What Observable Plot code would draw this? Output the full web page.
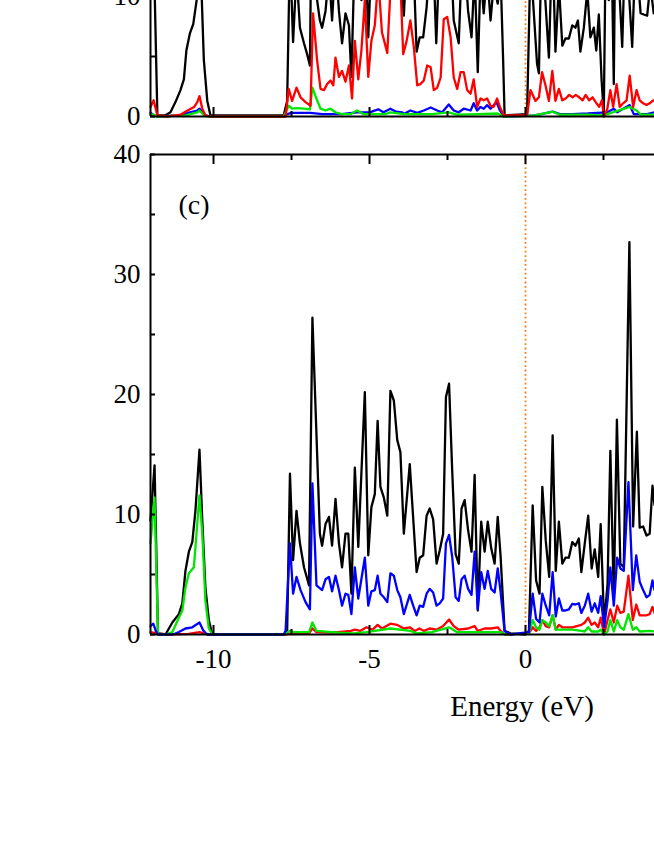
<!DOCTYPE html>
<html>
<head>
<meta charset="utf-8">
<script src="https://cdn.jsdelivr.net/npm/d3@7"></script>
<script src="https://cdn.jsdelivr.net/npm/@observablehq/plot@0.6"></script>
<style>
  html, body { margin: 0; padding: 0; background: #fff; }
  #wrap { position: relative; width: 654px; height: 846px; overflow: hidden; background: #fff; }
  #wrap svg { position: absolute; left: 0; }
  #xlabel { position: absolute; left: 322px; width: 400px; text-align: center; top: 692px;
            font-family: "Liberation Serif", serif; font-size: 29px; line-height: 29px; color: #000; }
</style>
</head>
<body>
<div id="wrap"><div id="xlabel">Energy (eV)</div></div>
<script>
// ---- axes / ticks ----
const xDomain = [-12.02, 4.135];
const yDomain = [0, 40];
const xTickLabels = [-10, -5, 0];
const xMinorTicks = [-7.5, -2.5, 2.5];
const yTickLabelsB = [0, 10];
const yTickLabelsC = [0, 10, 20, 30, 40];
const yAllTicks = [0, 5, 10, 15, 20, 25, 30, 35, 40];
const fermiLevel = [0];

// ---- panel (b): [energy (eV), DOS] ----
const bBlack = [[-12.02,16],[-11.9,12],[-11.8,0.1],[-11.54,0.1],[-11.38,0.36],[-11.22,1.2],[-11.06,2.2],[-10.95,3.1],[-10.87,5.5],[-10.76,6.9],[-10.65,7.7],[-10.54,9.7],[-10.45,15.5],[-10.31,4.7],[-10.2,1.3],[-10.1,0.1],
 [-7.75,0.1],[-7.64,1.3],[-7.55,14],[-7.45,6.2],[-7.34,12],[-7.23,7.4],[-7.10,6.1],[-7.0,5.2],[-6.91,4.25],[-6.83,24],[-6.68,9.7],[-6.59,8.0],[-6.52,7.4],[-6.41,8.8],[-6.30,12],[-6.20,8.0],[-6.09,13],[-5.98,8.8],[-5.88,6.1],[-5.77,8.6],[-5.66,7.6],[-5.58,3.3],[-5.47,14],[-5.36,11],[-5.26,9.7],[-5.15,16],[-5.04,6.6],[-4.94,13],[-4.83,11],[-4.72,18],[-4.60,12],[-4.50,14],[-4.40,11],[-4.30,19],[-4.18,17],[-4.05,13],
 [-3.90,8.4],[-3.79,14],[-3.69,11],[-3.58,12],[-3.49,5.4],[-3.39,6.6],[-3.28,6.6],[-3.17,9.1],[-3.07,13],[-2.94,12],[-2.86,6.1],[-2.75,14],[-2.62,11],[-2.52,16],[-2.40,14],[-2.30,8.0],[-2.14,6.1],[-2.04,13],[-1.90,11],[-1.84,8.8],[-1.73,6.6],[-1.63,12],[-1.53,3.7],[-1.44,12],[-1.34,8.6],[-1.23,12],[-1.12,8.0],[-1.02,11],[-0.89,9.4],[-0.80,12],[-0.72,5],[-0.67,0.1],
 [0.05,0.2],[0.16,13],[0.37,4.4],[0.43,3.6],[0.51,14],[0.64,9.5],[0.75,4.9],[0.86,15],[0.96,5.4],[1.07,11],[1.18,5.9],[1.28,6.5],[1.39,6.5],[1.50,7.6],[1.60,7.4],[1.68,8.0],[1.76,5.4],[1.87,7.4],[1.98,10.5],[2.08,6.6],[2.19,7.4],[2.27,5.5],[2.35,8.5],[2.44,3],[2.51,0.2],[2.56,12],[2.67,9.7],[2.76,14],[2.83,2.7],[2.88,16],[3.0,11],[3.1,5.8],[3.2,15],[3.3,11],[3.42,5.8],[3.53,14],[3.69,8.6],[3.79,8.5],[3.9,8.4],[4.0,11],[4.11,8.6],[4.135,9]];
const bRed = [[-12.02,0.8],[-11.92,1.35],[-11.8,0.1],[-11.5,0],[-11.06,0.15],[-10.90,0.4],[-10.73,0.65],[-10.62,0.8],[-10.52,1.2],[-10.45,1.7],[-10.36,0.65],[-10.26,0.1],[-10.1,0],
 [-7.69,0],[-7.59,2.3],[-7.48,1.3],[-7.34,2.4],[-7.21,1.6],[-7.05,1.2],[-6.89,0.9],[-6.81,8.6],[-6.68,4.7],[-6.57,2.3],[-6.46,2.2],[-6.36,2.7],[-6.25,3.0],[-6.16,2.6],[-6.09,4.9],[-5.98,3.3],[-5.88,3.8],[-5.77,2.9],[-5.66,4.25],[-5.56,1.5],[-5.47,6.3],[-5.36,3.1],[-5.26,5.5],[-5.15,9.7],[-5.04,3.3],[-4.94,6.3],[-4.83,7.6],[-4.72,11.5],[-4.60,7.0],[-4.43,5.3],[-4.32,11],[-4.15,12],[-4.0,10.5],[-3.92,5.2],[-3.81,6.3],[-3.69,8.0],[-3.58,5.8],[-3.47,2.6],[-3.37,2.7],[-3.26,3.0],[-3.15,4.25],[-3.04,4.1],[-2.94,2.2],[-2.83,2.4],[-2.72,3.25],[-2.62,8.1],[-2.51,8.3],[-2.40,6.6],[-2.30,3.25],[-2.19,2.3],[-2.08,3.7],[-1.98,3.7],[-1.87,2.2],[-1.76,1.9],[-1.66,3.1],[-1.55,0.8],[-1.44,1.5],[-1.34,1.35],[-1.23,1.5],[-1.12,0.9],[-1.02,0.8],[-0.91,1.5],[-0.82,0.8],[-0.70,0.1],
 [0.05,0.1],[0.16,2.2],[0.32,1.3],[0.43,1.6],[0.53,3.7],[0.64,2.6],[0.75,1.3],[0.86,3.8],[0.96,1.3],[1.07,2.3],[1.18,1.35],[1.29,1.5],[1.40,1.8],[1.51,1.6],[1.61,1.8],[1.72,1.6],[1.83,1.35],[1.93,1.8],[2.04,1.35],[2.15,1.6],[2.25,1.2],[2.36,0.8],[2.45,1.35],[2.51,0],[2.62,0.6],[2.72,2.2],[2.81,0.8],[2.92,2.7],[3.02,0.8],[3.13,1.1],[3.24,1.35],[3.34,3.4],[3.45,0.8],[3.56,2.2],[3.66,1.35],[3.77,1.1],[3.88,0.95],[3.98,1.1],[4.09,1.35],[4.135,1.3]];
const bBlue = [[-12.02,0.3],[-11.9,0.1],[-11.8,0],[-11.06,0.1],[-10.76,0.35],[-10.52,0.5],[-10.45,0.65],[-10.36,0.35],[-10.26,0.1],[-10.1,0],
 [-7.75,0],[-7.64,0.2],[-7.5,0.3],[-6.9,0.3],[-6.5,0.2],[-5.9,0.2],[-5.4,0.35],[-5.0,0.35],[-4.72,0.6],[-4.55,0.35],[-4.33,0.65],[-4.15,0.4],[-3.95,0.35],[-3.9,0.2],[-3.69,0.5],[-3.47,0.3],[-3.26,0.5],[-3.04,0.75],[-2.83,0.5],[-2.67,0.35],[-2.46,1.0],[-2.30,0.5],[-2.14,0.35],[-1.98,0.65],[-1.76,0.5],[-1.66,1.1],[-1.55,0.5],[-1.44,0.8],[-1.34,0.65],[-1.23,0.95],[-1.12,0.65],[-0.93,1.2],[-0.82,0.5],[-0.70,0],
 [0.05,0.05],[0.27,0.1],[0.5,0.2],[0.87,0.4],[1.1,0.2],[1.5,0.2],[2.0,0.25],[2.3,0.3],[2.62,0.35],[2.83,0.65],[2.94,0.35],[3.34,0.95],[3.47,0.2],[3.9,0.2],[4.135,0.35]];
const bGreen = [[-12.02,0.2],[-11.85,0.1],[-11.8,0],[-10.9,0.1],[-10.52,0.35],[-10.45,0.5],[-10.31,0.1],[-10.2,0],
 [-7.75,0],[-7.59,0.9],[-7.48,0.65],[-7.32,0.7],[-7.1,0.65],[-6.91,0.6],[-6.83,2.4],[-6.68,1.35],[-6.57,0.65],[-6.41,0.5],[-6.25,0.65],[-6.09,0.35],[-5.88,0.2],[-5.6,0.2],[-5.4,0.5],[-5.2,0.2],[-4.5,0.2],[-4.33,0.35],[-3.9,0.2],[-3.0,0.2],[-2.46,0.35],[-2.2,0.15],[-1.5,0.2],[-0.9,0.25],[-0.70,0],
 [0.05,0.05],[0.3,0.1],[0.87,0.4],[1.1,0.15],[2.0,0.15],[2.5,0.1],[3.34,0.8],[3.56,0.5],[3.7,0.15],[4.135,0.15]];

// ---- panel (c): [energy (eV), DOS] ----
const cBlack = [[-12.02,9.5],[-11.89,14.1],[-11.78,0.1],[-11.54,0],[-11.32,1.0],[-11.11,1.7],[-11.0,2.6],[-10.9,5.3],[-10.79,6.9],[-10.68,7.7],[-10.58,10.3],[-10.45,15.4],[-10.36,9.5],[-10.26,3.9],[-10.15,1.2],[-10.04,0],
 [-7.75,0],[-7.64,0.3],[-7.55,13.4],[-7.45,6.2],[-7.34,10.3],[-7.23,7.6],[-7.10,5.6],[-6.94,4.1],[-6.83,26.4],[-6.59,8.4],[-6.52,7.4],[-6.41,9.2],[-6.30,9.8],[-6.20,7.4],[-6.09,11.3],[-5.98,7.6],[-5.88,5.6],[-5.77,8.4],[-5.68,8.4],[-5.58,3.4],[-5.47,13.9],[-5.36,7.3],[-5.15,20.2],[-5.04,6.6],[-4.94,10.6],[-4.83,11.7],[-4.74,17.8],[-4.65,12.3],[-4.54,11.4],[-4.43,9.9],[-4.33,20.3],[-4.22,19.5],[-4.11,16.2],[-4.01,15.2],[-3.90,8.4],[-3.71,14.2],[-3.49,5.2],[-3.39,6.4],[-3.28,6.6],[-3.17,9.9],[-3.07,10.5],[-2.96,9.6],[-2.85,5.9],[-2.75,7.0],[-2.64,8.4],[-2.55,19.8],[-2.45,20.9],[-2.35,13.7],[-2.24,6.7],[-2.14,5.9],[-2.05,10.5],[-1.95,11.2],[-1.84,8.7],[-1.73,6.9],[-1.63,13.3],[-1.53,2.0],[-1.42,9.4],[-1.31,6.9],[-1.21,9.4],[-1.10,7.2],[-0.99,5.9],[-0.89,9.8],[-0.80,6.6],[-0.67,0.3],[-0.48,0.1],
 [0.0,0],[0.11,0.3],[0.23,10.75],[0.34,4.5],[0.45,3.4],[0.54,12.3],[0.65,7.8],[0.76,4.8],[0.87,16.6],[0.97,5.3],[1.07,9.4],[1.18,5.9],[1.28,6.4],[1.39,6.4],[1.50,7.7],[1.60,7.4],[1.71,8.0],[1.79,5.2],[1.90,7.6],[2.01,9.9],[2.12,5.5],[2.22,7.1],[2.33,4.8],[2.41,9.2],[2.52,0.9],[2.63,4.2],[2.72,15.3],[2.83,3.1],[2.93,17.9],[3.04,5.9],[3.15,5.6],[3.33,32.7],[3.45,9],[3.57,16.9],[3.66,8.9],[3.77,9.0],[3.88,8.25],[3.98,8.4],[4.07,12.4],[4.135,10.8]];
const cBlue = [[-12.02,0.7],[-11.93,0.9],[-11.85,0.3],[-11.78,0],[-11.3,0],[-11.11,0.2],[-10.9,0.5],[-10.68,0.6],[-10.45,1.0],[-10.32,0.3],[-10.2,0],
 [-7.75,0],[-7.69,0.3],[-7.55,7.6],[-7.45,3.4],[-7.34,4.8],[-7.21,3.7],[-7.05,2.7],[-6.91,2.1],[-6.83,12.6],[-6.70,4.1],[-6.52,3.7],[-6.41,4.6],[-6.30,4.8],[-6.20,3.6],[-6.09,4.9],[-5.98,3.7],[-5.88,2.4],[-5.77,3.4],[-5.68,3.3],[-5.58,1.7],[-5.47,5.6],[-5.36,3.0],[-5.15,6.4],[-5.04,2.4],[-4.94,3.6],[-4.83,3.7],[-4.74,4.9],[-4.65,3.4],[-4.54,3.1],[-4.43,2.7],[-4.33,5.1],[-4.22,4.9],[-4.11,3.7],[-4.01,3.1],[-3.90,1.7],[-3.71,3.3],[-3.60,2.4],[-3.49,1.6],[-3.39,2.4],[-3.28,2.3],[-3.17,3.4],[-3.07,3.8],[-2.96,3.5],[-2.85,2.4],[-2.75,2.6],[-2.64,3.0],[-2.55,7.6],[-2.45,8.3],[-2.35,6.5],[-2.24,3.1],[-2.14,2.8],[-2.05,4.6],[-1.95,4.9],[-1.84,3.8],[-1.73,3.3],[-1.63,6.9],[-1.53,2.1],[-1.42,5.2],[-1.31,3.8],[-1.21,5.3],[-1.10,3.8],[-0.99,3.5],[-0.89,5.5],[-0.80,3.6],[-0.67,0.3],[-0.48,0],
 [0.11,0.2],[0.23,3.4],[0.34,1.3],[0.45,1.0],[0.54,3.4],[0.65,2.4],[0.76,1.6],[0.87,5.2],[0.97,1.5],[1.07,3.0],[1.18,2.0],[1.28,2.0],[1.39,2.1],[1.50,2.55],[1.60,2.5],[1.71,2.6],[1.79,1.8],[1.90,2.4],[2.01,3.4],[2.12,1.9],[2.22,2.6],[2.33,1.8],[2.41,3.2],[2.52,0.6],[2.63,2.8],[2.72,5.6],[2.83,2.4],[2.94,6.4],[3.04,5.5],[3.15,5.3],[3.30,12.7],[3.44,3.7],[3.55,6.6],[3.66,4.4],[3.77,3.7],[3.88,3.1],[3.98,3.3],[4.07,4.5],[4.135,3.7]];
const cGreen = [[-12.02,7.6],[-11.89,11.4],[-11.78,0],[-11.54,0],[-11.32,0.2],[-11.11,1.4],[-11.0,2.0],[-10.9,3.9],[-10.79,5.1],[-10.63,5.6],[-10.45,11.6],[-10.36,8.4],[-10.26,2.8],[-10.15,0.5],[-10.04,0],
 [-7.75,0],[-7.55,0.3],[-7.45,0.2],[-6.94,0.2],[-6.83,1.0],[-6.70,0.3],[-6.0,0.15],[-5.5,0.1],[-5.1,0.2],[-4.33,0.5],[-3.69,0.3],[-3.5,0.1],[-3.0,0.2],[-2.45,0.6],[-2.2,0.2],[-1.5,0.2],[-0.80,0.2],[-0.67,0],
 [0.11,0.1],[0.23,1.2],[0.34,0.6],[0.45,0.4],[0.54,1.2],[0.65,1.0],[0.76,0.7],[0.87,1.6],[0.97,0.4],[1.07,0.4],[1.5,0.4],[1.79,0.3],[1.90,0.25],[2.01,0.6],[2.12,0.25],[2.33,0.25],[2.41,0.4],[2.52,0],[2.63,0.25],[2.72,1.2],[2.83,0.25],[2.94,1.2],[3.04,0.6],[3.15,0.4],[3.30,1.7],[3.44,0.4],[3.55,0.6],[3.66,0.25],[3.98,0.3],[4.135,0.25]];
const cRed = [[-12.02,0.2],[-11.8,0.1],[-11.5,0],[-10.8,0.05],[-10.45,0.2],[-10.2,0],
 [-7.7,0],[-7.5,0.1],[-6.94,0.1],[-6.83,0.5],[-6.7,0.2],[-6.2,0.15],[-5.6,0.3],[-5.47,0.4],[-5.3,0.3],[-5.1,0.6],[-4.9,0.4],[-4.74,0.8],[-4.6,0.5],[-4.33,0.9],[-4.11,0.8],[-3.90,0.5],[-3.71,0.6],[-3.55,0.3],[-3.4,0.5],[-3.25,0.3],[-3.07,0.5],[-2.85,0.4],[-2.64,0.7],[-2.45,1.25],[-2.3,0.7],[-2.14,0.4],[-1.84,0.5],[-1.63,0.7],[-1.53,0.3],[-1.31,0.5],[-1.10,0.5],[-0.89,0.6],[-0.80,0.3],[-0.67,0],
 [0.11,0.1],[0.23,0.6],[0.34,0.3],[0.45,0.6],[0.54,1.2],[0.65,0.7],[0.76,0.6],[0.87,1.6],[0.97,0.4],[1.07,0.8],[1.18,0.6],[1.5,0.6],[1.79,0.8],[1.90,1.0],[2.01,1.4],[2.12,0.8],[2.22,1.0],[2.33,0.6],[2.41,1.4],[2.52,0],[2.63,1.2],[2.72,2.1],[2.83,1.0],[2.94,2.4],[3.04,1.8],[3.15,1.9],[3.30,4.9],[3.44,1.2],[3.55,2.5],[3.66,1.6],[3.88,1.6],[3.98,1.7],[4.07,2.3],[4.135,1.8]];

const colors = {black: "#000000", blue: "#0000ff", green: "#00e600", red: "#ff0000"};
const toRows = a => a.map(([E, v]) => ({E, v}));

function panel({series, yLabels, marginTop, marginBottom, height, showXLabels, showTopTicks, tag}) {
  const marks = [
    Plot.ruleX(fermiLevel, {stroke: "#f07f1a", strokeWidth: 1.8, strokeDasharray: "1.8,2.6"}),
    ...series.map(([data, c]) => Plot.line(toRows(data), {x: "E", y: "v", stroke: colors[c], strokeWidth: 2.3})),
    Plot.ruleY([yDomain[0], yDomain[1]], {strokeWidth: 2}),
    Plot.ruleX([xDomain[0]], {strokeWidth: 2}),
    Plot.axisY({ticks: yLabels, tickSize: 0, tickPadding: 10, label: null, fontSize: 27, tickFormat: d => `${d}`}),
    Plot.axisY({ticks: yAllTicks, tickSize: -5, strokeWidth: 2, fill: "none", label: null}),
    Plot.axisX({anchor: "bottom", ticks: xTickLabels, tickSize: -9, strokeWidth: 2, fill: "none", label: null}),
    Plot.axisX({anchor: "bottom", ticks: xMinorTicks, tickSize: -5, strokeWidth: 2, fill: "none", label: null})
  ];
  if (showXLabels) marks.push(Plot.axisX({anchor: "bottom", ticks: xTickLabels, tickSize: 0, tickPadding: 14, label: null, fontSize: 27, tickFormat: d => `${d}`}));
  if (showTopTicks) {
    marks.push(Plot.axisX({anchor: "top", ticks: xTickLabels, tickSize: -9, strokeWidth: 2, fill: "none", label: null}));
    marks.push(Plot.axisX({anchor: "top", ticks: xMinorTicks, tickSize: -5, strokeWidth: 2, fill: "none", label: null}));
  }
  if (tag) marks.push(Plot.text([tag], {frameAnchor: "top-left", dx: 28, dy: 40, textAnchor: "start", fontSize: 28}));
  return Plot.plot({
    width: 654, height, marginLeft: 150, marginRight: 0, marginTop, marginBottom,
    x: {domain: xDomain},
    y: {domain: yDomain},
    style: {fontFamily: "Liberation Serif, serif", fontSize: "27px", background: "transparent", color: "#000", overflow: "visible"},
    marks
  });
}

const wrap = document.getElementById("wrap");
// panel (b): only its lowest part is visible (0 line at y=116)
const pb = panel({series: [[bBlack,"black"],[bBlue,"blue"],[bGreen,"green"],[bRed,"red"]], yLabels: yTickLabelsB, marginTop: 10, marginBottom: 10, height: 500, showXLabels: false, showTopTicks: false, tag: null});
pb.style.top = "-374px";
wrap.appendChild(pb);
// panel (c)
const pc = panel({series: [[cBlack,"black"],[cRed,"red"],[cGreen,"green"],[cBlue,"blue"]], yLabels: yTickLabelsC, marginTop: 28, marginBottom: 212, height: 720, showXLabels: true, showTopTicks: true, tag: "(c)"});
pc.style.top = "126px";
wrap.appendChild(pc);
</script>
</body>
</html>
